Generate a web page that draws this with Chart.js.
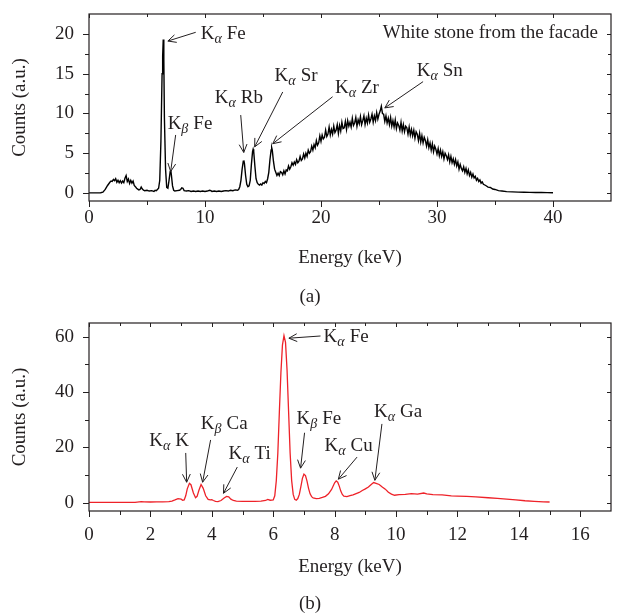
<!DOCTYPE html>
<html>
<head>
<meta charset="utf-8">
<script src="https://cdn.jsdelivr.net/npm/chart.js@4"></script>
<style>
  html, body { margin: 0; padding: 0; background: #fff; }
  .panel { position: absolute; left: 0; width: 618px; height: 307px; }
  #wrapA { top: 0; }
  #wrapB { top: 307px; }
</style>
</head>
<body>
<div class="panel" id="wrapA"><canvas id="chartA"></canvas></div>
<div class="panel" id="wrapB"><canvas id="chartB"></canvas></div>
<script>
// spectrum (a): white stone from the facade, [energy keV, counts]
const spectrumA = [
  [0.0,0.02],[0.5,0.02],[1.0,0.03],[1.2,0.1],[1.4,0.45],[1.6,0.95],[1.8,1.35],[1.9,1.5],[2.0,1.45],[2.1,1.7],
  [2.2,1.55],[2.3,1.8],[2.4,1.35],[2.5,1.6],[2.6,1.3],[2.7,1.55],[2.8,1.25],[2.9,1.5],[3.0,1.3],[3.1,1.85],
  [3.2,2.2],[3.3,1.45],[3.4,1.75],[3.5,1.2],[3.6,1.6],[3.7,1.25],[3.8,1.5],[3.9,0.95],[4.0,0.8],[4.1,0.6],
  [4.2,0.5],[4.3,0.4],[4.4,0.45],[4.5,0.75],[4.6,0.5],[4.7,0.35],[4.8,0.3],[5.0,0.35],[5.2,0.25],[5.4,0.3],
  [5.6,0.2],[5.7,0.35],[5.8,0.3],[5.9,0.45],[6.0,0.6],[6.1,1.6],[6.2,6.5],[6.3,15.0],[6.35,17.2],[6.4,19.3],
  [6.45,16.8],[6.5,9.5],[6.6,3.0],[6.7,0.7],[6.8,0.6],[6.9,1.6],[7.0,2.7],[7.05,2.9],[7.1,2.3],[7.2,0.9],
  [7.3,0.35],[7.4,0.25],[7.6,0.3],[7.8,0.35],[7.9,0.45],[8.0,0.65],[8.1,0.6],[8.2,0.3],[8.4,0.25],[8.6,0.3],
  [8.8,0.2],[9.0,0.25],[9.2,0.2],[9.4,0.25],[9.6,0.2],[9.8,0.25],[10.0,0.2],[10.2,0.25],[10.4,0.35],[10.5,0.3],
  [10.6,0.2],[10.8,0.25],[11.0,0.2],[11.2,0.25],[11.4,0.2],[11.6,0.25],[11.8,0.3],[12.0,0.25],[12.2,0.35],[12.4,0.3],
  [12.6,0.4],[12.8,0.35],[12.9,0.45],[13.0,0.8],[13.1,1.6],[13.2,3.0],[13.3,4.0],[13.35,4.1],[13.4,3.7],[13.5,2.2],
  [13.6,1.1],[13.7,0.8],[13.8,0.9],[13.9,1.6],[14.0,3.6],[14.1,5.2],[14.15,5.5],[14.2,5.2],[14.3,3.4],[14.4,1.8],
  [14.5,1.3],[14.6,1.1],[14.7,1.0],[14.8,1.15],[14.9,1.0],[15.0,1.3],[15.1,1.2],[15.2,1.45],[15.3,1.3],[15.4,1.8],
  [15.5,2.6],[15.6,4.2],[15.7,5.4],[15.75,5.7],[15.8,5.4],[15.9,4.0],[16.0,3.0],[16.1,2.6],[16.2,2.2],[16.3,2.5],
  [16.4,2.2],[16.5,2.7],[16.6,2.6],[16.7,2.3],[16.8,2.8],[16.9,2.4],[17.0,2.9],[17.1,2.8],[17.2,3.4],[17.3,3.0],
  [17.4,3.3],[17.5,3.8],[17.6,3.5],[17.7,3.9],[17.8,3.6],[17.9,4.2],[18.0,3.8],[18.1,4.0],[18.2,4.6],[18.3,4.1],
  [18.4,4.3],[18.5,4.9],[18.6,4.4],[18.7,5.0],[18.8,4.6],[18.9,5.4],[19.0,5.0],[19.1,5.2],[19.2,5.9],[19.3,5.4],
  [19.4,6.1],[19.5,5.7],[19.6,6.6],[19.7,6.0],[19.8,6.3],[19.9,7.2],[20.0,6.5],[20.1,7.3],[20.2,6.8],[20.3,7.0],
  [20.4,7.9],[20.5,7.1],[20.6,7.4],[20.7,8.3],[20.8,7.3],[20.9,8.0],[21.0,7.4],[21.1,8.4],[21.2,7.6],[21.3,7.9],
  [21.4,8.6],[21.5,7.5],[21.6,8.5],[21.7,7.8],[21.8,8.9],[21.9,8.1],[22.0,8.2],[22.1,9.0],[22.2,8.0],[22.3,9.1],
  [22.4,8.4],[22.5,8.9],[22.6,8.3],[22.7,9.4],[22.8,8.5],[22.9,8.8],[23.0,9.5],[23.1,8.4],[23.2,9.2],[23.3,8.7],
  [23.4,9.6],[23.5,8.6],[23.6,9.1],[23.7,9.7],[23.8,8.6],[23.9,9.4],[24.0,8.8],[24.1,9.8],[24.2,8.9],[24.3,9.3],
  [24.4,9.9],[24.5,8.9],[24.6,9.7],[24.7,9.1],[24.8,10.1],[24.9,9.3],[25.0,9.9],[25.1,10.3],[25.2,10.9],[25.3,10.0],
  [25.4,9.9],[25.5,9.0],[25.6,9.7],[25.7,8.8],[25.8,9.4],[25.9,8.6],[26.0,9.5],[26.1,8.4],[26.2,9.1],[26.3,8.3],
  [26.4,9.2],[26.5,8.1],[26.6,8.8],[26.7,8.5],[26.8,7.9],[26.9,8.9],[27.0,7.8],[27.1,8.6],[27.2,7.7],[27.3,8.4],
  [27.4,8.2],[27.5,7.4],[27.6,8.3],[27.7,7.3],[27.8,8.0],[27.9,7.2],[28.0,7.9],[28.1,6.9],[28.2,7.7],[28.3,7.4],
  [28.4,6.6],[28.5,7.5],[28.6,6.4],[28.7,7.2],[28.8,6.3],[28.9,7.0],[29.0,6.6],[29.1,5.9],[29.2,6.7],[29.3,5.7],
  [29.4,6.3],[29.5,5.4],[29.6,6.2],[29.7,5.2],[29.8,5.9],[29.9,5.5],[30.0,4.9],[30.1,5.6],[30.2,4.7],[30.3,5.4],
  [30.4,4.6],[30.5,5.2],[30.6,4.3],[30.7,5.0],[30.8,4.7],[30.9,4.2],[31.0,4.8],[31.1,3.9],[31.2,4.6],[31.3,3.8],
  [31.4,4.3],[31.5,3.6],[31.6,4.2],[31.7,3.4],[31.8,3.9],[31.9,3.0],[32.0,3.6],[32.1,3.1],[32.2,2.8],[32.3,3.3],
  [32.4,2.6],[32.5,3.1],[32.6,2.4],[32.7,2.9],[32.8,2.2],[32.9,2.6],[33.0,2.0],[33.1,2.4],[33.2,1.9],[33.3,2.1],
  [33.4,1.6],[33.5,1.85],[33.6,1.45],[33.7,1.65],[33.8,1.25],[33.9,1.4],[34.0,1.1],[34.2,0.95],[34.4,0.75],[34.6,0.7],
  [34.8,0.5],[35.0,0.45],[35.3,0.3],[35.6,0.25],[36.0,0.18],[36.5,0.15],[37.0,0.12],[37.5,0.1],[38.0,0.08],[38.5,0.07],
  [39.0,0.06],[39.5,0.05],[40.0,0.04]
];

// spectrum (b), [energy keV, counts]
const spectrumB = [
  [0.0,0.1],[0.5,0.1],[1.0,0.1],[1.5,0.15],[1.7,0.4],[1.8,0.3],[2.0,0.25],[2.2,0.3],[2.4,0.3],[2.6,0.4],
  [2.7,0.6],[2.8,1.0],[2.9,1.5],[3.0,1.3],[3.05,0.9],[3.1,1.0],[3.15,2.5],[3.2,5.0],[3.27,7.0],[3.32,6.5],
  [3.4,3.5],[3.47,1.8],[3.52,2.3],[3.58,4.5],[3.65,6.6],[3.72,5.2],[3.8,2.5],[3.88,1.2],[3.95,1.0],[4.0,1.1],
  [4.05,0.8],[4.12,0.5],[4.2,0.4],[4.3,0.8],[4.4,1.7],[4.48,2.3],[4.55,2.1],[4.62,1.3],[4.7,0.8],[4.8,0.6],
  [5.0,0.5],[5.2,0.5],[5.4,0.45],[5.6,0.55],[5.75,0.8],[5.82,1.2],[5.9,0.9],[6.0,1.0],[6.05,2.5],[6.1,8.0],
  [6.15,18],[6.2,33],[6.25,47],[6.3,57],[6.35,60.4],[6.4,58],[6.45,48],[6.5,33],[6.55,18],[6.6,8],
  [6.65,3],[6.7,1.2],[6.75,0.9],[6.8,1.5],[6.85,3.0],[6.9,5.8],[6.95,8.8],[7.0,10.3],[7.05,9.8],[7.1,7.8],
  [7.15,5.2],[7.2,3.2],[7.25,2.2],[7.3,1.7],[7.4,1.5],[7.5,1.6],[7.6,1.9],[7.7,2.3],[7.8,3.2],[7.9,4.8],
  [8.0,7.2],[8.05,7.9],[8.1,7.4],[8.15,6.0],[8.2,4.2],[8.25,3.0],[8.3,2.4],[8.4,2.2],[8.5,2.6],[8.6,2.8],
  [8.7,3.3],[8.8,3.7],[8.9,4.4],[9.0,5.0],[9.1,5.7],[9.2,6.7],[9.27,7.3],[9.35,7.0],[9.45,6.6],[9.55,5.7],
  [9.65,4.9],[9.75,3.8],[9.85,3.1],[9.95,2.7],[10.1,2.9],[10.3,3.0],[10.5,3.3],[10.7,3.1],[10.9,3.5],[11.0,3.2],
  [11.2,2.9],[11.5,2.8],[11.8,2.5],[12.0,2.4],[12.3,2.3],[12.6,2.1],[13.0,1.8],[13.3,1.6],[13.6,1.3],[13.9,1.0],
  [14.2,0.7],[14.5,0.5],[14.8,0.3],[15.0,0.25]
];

const xTicksA = [0, 10, 20, 30, 40];
const xMinorA = [5, 15, 25, 35];
const yTicksA = [0, 5, 10, 15, 20];
const yMinorA = [2.5, 7.5, 12.5, 17.5];

const xTicksB = [0, 2, 4, 6, 8, 10, 12, 14, 16];
const xMinorB = [1, 3, 5, 7, 9, 11, 13, 15];
const yTicksB = [0, 20, 40, 60];
const yMinorB = [10, 30, 50];

// peak labels: symbol, element, text position, arrow from -> to (data units)
const peaksA = [
  { g: 'α', el: 'Fe', tx: 9.63, ty: 20.1, a: [9.2, 20.2, 6.8, 19.1] },
  { g: 'β', el: 'Fe', tx: 6.78, ty: 8.8, a: [7.47, 7.3, 7.04, 2.7] },
  { g: 'α', el: 'Rb', tx: 10.84, ty: 12.1, a: [13.08, 9.8, 13.34, 5.1] },
  { g: 'α', el: 'Sr', tx: 16.0, ty: 14.8, a: [16.7, 12.7, 14.28, 5.8] },
  { g: 'α', el: 'Zr', tx: 21.2, ty: 13.3, a: [21.0, 12.1, 15.84, 6.2] },
  { g: 'α', el: 'Sn', tx: 28.25, ty: 15.5, a: [28.8, 14.0, 25.5, 10.7] }
];
const peaksB = [
  { g: 'α', el: 'Fe', tx: 7.64, ty: 60.3, a: [7.54, 60.3, 6.51, 59.5] },
  { g: 'α', el: 'K', tx: 1.96, ty: 22.7, a: [3.15, 18.0, 3.18, 7.4] },
  { g: 'β', el: 'Ca', tx: 3.64, ty: 28.9, a: [3.96, 22.7, 3.70, 7.4] },
  { g: 'α', el: 'Ti', tx: 4.54, ty: 18.0, a: [4.83, 12.9, 4.38, 3.4] },
  { g: 'β', el: 'Fe', tx: 6.76, ty: 30.7, a: [7.02, 25.3, 6.89, 12.5] },
  { g: 'α', el: 'Cu', tx: 7.67, ty: 20.9, a: [8.73, 16.5, 8.12, 8.5] },
  { g: 'α', el: 'Ga', tx: 9.28, ty: 33.0, a: [9.54, 28.5, 9.31, 8.1] }
];

const SERIF = '"Liberation Serif", "Times New Roman", serif';
const INK = '#231f20';

function drawPeakLabel(ctx, x, y, p) {
  const base = y + 6;
  ctx.fillStyle = INK;
  ctx.textAlign = 'left';
  ctx.textBaseline = 'alphabetic';
  ctx.font = '19px ' + SERIF;
  ctx.fillText('K', x, base);
  let w = ctx.measureText('K').width;
  ctx.font = 'italic 14px ' + SERIF;
  ctx.fillText(p.g, x + w, base + 4);
  w += ctx.measureText(p.g).width + 5;
  ctx.font = '19px ' + SERIF;
  ctx.fillText(p.el, x + w, base);
}

function drawArrow(ctx, x1, y1, x2, y2) {
  const ang = Math.atan2(y2 - y1, x2 - x1);
  const len = 9, spread = 0.45;
  ctx.beginPath();
  ctx.moveTo(x1, y1);
  ctx.lineTo(x2, y2);
  ctx.moveTo(x2 - len * Math.cos(ang - spread), y2 - len * Math.sin(ang - spread));
  ctx.lineTo(x2, y2);
  ctx.lineTo(x2 - len * Math.cos(ang + spread), y2 - len * Math.sin(ang + spread));
  ctx.stroke();
}

// box, tick marks (major/minor, mirrored inside on top/right) and peak labels
const framePlugin = {
  id: 'frame',
  afterDatasetsDraw(chart, args, opts) {
    const ctx = chart.ctx;
    const { left, right, top, bottom } = chart.chartArea;
    const xs = chart.scales.x, ys = chart.scales.y;
    ctx.save();
    ctx.strokeStyle = INK;
    ctx.lineWidth = 1.2;
    ctx.strokeRect(left, top, right - left, bottom - top);

    ctx.lineWidth = 1;
    ctx.beginPath();
    opts.xMajor.forEach(v => {
      const px = Math.round(xs.getPixelForValue(v)) + 0.5;
      ctx.moveTo(px, bottom); ctx.lineTo(px, bottom + 6);
      ctx.moveTo(px, top); ctx.lineTo(px, top + 4);
    });
    opts.xMinor.forEach(v => {
      const px = Math.round(xs.getPixelForValue(v)) + 0.5;
      ctx.moveTo(px, bottom); ctx.lineTo(px, bottom + 4);
      ctx.moveTo(px, top); ctx.lineTo(px, top + 3);
    });
    opts.yMajor.forEach(v => {
      const py = Math.round(ys.getPixelForValue(v)) + 0.5;
      ctx.moveTo(left, py); ctx.lineTo(left - 6, py);
      ctx.moveTo(right, py); ctx.lineTo(right - 4, py);
    });
    opts.yMinor.forEach(v => {
      const py = Math.round(ys.getPixelForValue(v)) + 0.5;
      ctx.moveTo(left, py); ctx.lineTo(left - 4, py);
      ctx.moveTo(right, py); ctx.lineTo(right - 3, py);
    });
    ctx.stroke();

    opts.peaks.forEach(p => {
      drawPeakLabel(ctx, xs.getPixelForValue(p.tx), ys.getPixelForValue(p.ty), p);
      drawArrow(ctx,
        xs.getPixelForValue(p.a[0]), ys.getPixelForValue(p.a[1]),
        xs.getPixelForValue(p.a[2]), ys.getPixelForValue(p.a[3]));
    });

    ctx.fillStyle = INK;
    ctx.font = '19px ' + SERIF;
    ctx.textBaseline = 'middle';
    if (opts.note) {
      ctx.textAlign = 'right';
      ctx.fillText(opts.note, right - 13, top + 19);
    }
    ctx.textAlign = 'center';
    ctx.fillText(opts.panel, 310, chart.height - 10);
    ctx.restore();
  }
};

function makeChart(id, cfg) {
  const font = { family: SERIF, size: 19 };
  return new Chart(document.getElementById(id), {
    type: 'line',
    data: {
      datasets: [{
        data: cfg.points.map(p => ({ x: p[0], y: p[1] })),
        borderColor: cfg.color,
        borderWidth: cfg.width,
        pointRadius: 0,
        tension: 0,
        fill: false
      }]
    },
    options: {
      responsive: true,
      maintainAspectRatio: false,
      animation: false,
      layout: { padding: { left: 0, right: 7, top: cfg.padTop, bottom: 0 } },
      plugins: {
        legend: { display: false },
        tooltip: { enabled: false },
        frame: cfg.frame
      },
      scales: {
        x: {
          type: 'linear',
          min: cfg.xMin, max: cfg.xMax,
          afterBuildTicks: s => { s.ticks = cfg.xTicks.map(v => ({ value: v })); },
          afterFit: s => { s.height = cfg.xHeight; s.paddingLeft = 0; s.paddingRight = 0; },
          grid: { display: false, drawTicks: false },
          border: { display: false },
          ticks: { font, color: INK, padding: cfg.xPad, maxRotation: 0, autoSkip: false },
          title: { display: true, text: 'Energy (keV)', font, color: INK, padding: { top: 0, bottom: cfg.xTitlePad } }
        },
        y: {
          type: 'linear',
          min: cfg.yMin, max: cfg.yMax,
          afterBuildTicks: s => { s.ticks = cfg.yTicks.map(v => ({ value: v })); },
          afterFit: s => { s.width = 89; s.paddingTop = 0; s.paddingBottom = 0; },
          grid: { display: false, drawTicks: false },
          border: { display: false },
          ticks: { font, color: INK, padding: 15 },
          title: { display: true, text: 'Counts (a.u.)', font, color: INK, padding: { top: 9, bottom: 0 } }
        }
      }
    },
    plugins: [framePlugin]
  });
}

makeChart('chartA', {
  points: spectrumA, color: '#000', width: 1.4,
  xMin: 0, xMax: 45, yMin: -1, yMax: 22.5,
  xTicks: xTicksA, yTicks: yTicksA,
  padTop: 14, xHeight: 106, xPad: 6, xTitlePad: 38,
  frame: { xMajor: xTicksA, xMinor: xMinorA, yMajor: yTicksA, yMinor: yMinorA,
           peaks: peaksA, note: 'White stone from the facade', panel: '(a)' }
});

makeChart('chartB', {
  points: spectrumB, color: '#ee2229', width: 1.3,
  xMin: 0, xMax: 17, yMin: -3, yMax: 65,
  xTicks: xTicksB, yTicks: yTicksB,
  padTop: 16, xHeight: 103, xPad: 13, xTitlePad: 36,
  frame: { xMajor: xTicksB, xMinor: xMinorB, yMajor: yTicksB, yMinor: yMinorB,
           peaks: peaksB, note: '', panel: '(b)' }
});
</script>
</body>
</html>
